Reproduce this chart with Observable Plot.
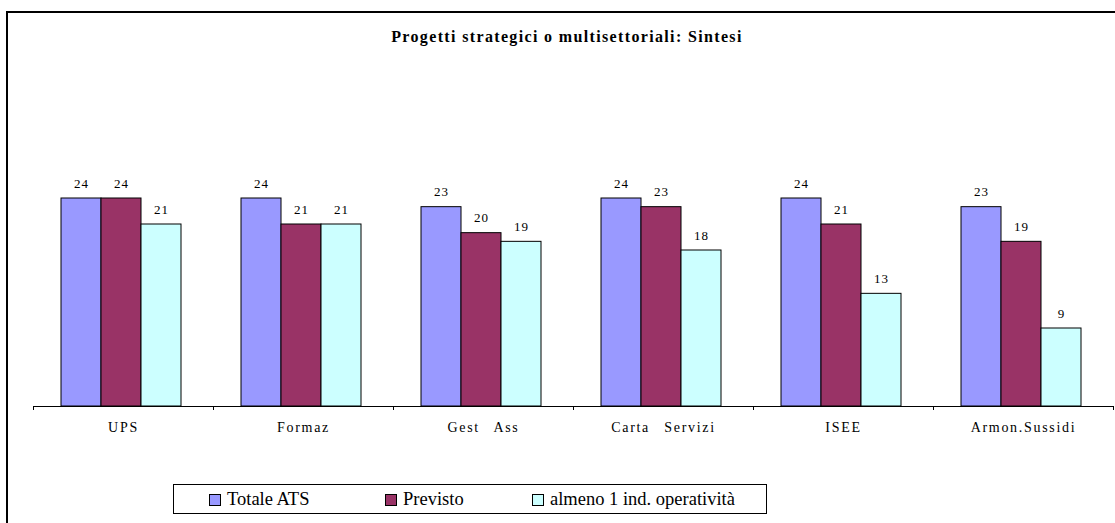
<!DOCTYPE html>
<html>
<head>
<meta charset="utf-8">
<script src="https://cdn.jsdelivr.net/npm/d3@7"></script>
<script src="https://cdn.jsdelivr.net/npm/@observablehq/plot@0.6"></script>
<style>
  html, body { margin: 0; padding: 0; background: #fff; width: 1115px; height: 523px; overflow: hidden; }
  #frame { position: absolute; left: 6px; top: 11px; width: 1200px; height: 600px; border-left: 2px solid #000; border-top: 2px solid #000; }
  #title { position: absolute; left: 7px; top: 27px; width: 1120px; text-align: center; font: bold 16px "Liberation Serif", "DejaVu Serif", serif; line-height: 19px; letter-spacing: 1.35px; color: #000; }
  #chart { position: absolute; left: 0; top: 60px; }
  #chart svg g[aria-label="fx-axis tick label"] text { letter-spacing: 1.7px; word-spacing: 9px; }
  #chart svg g[aria-label="text"] text { letter-spacing: 1px; }
  #legend { position: absolute; left: 173px; top: 484px; width: 592px; height: 28px; border: 1px solid #000; background: #fff; font: 18.5px "Liberation Serif", "DejaVu Serif", serif; color: #000; }
  .item { position: absolute; top: 0; height: 28px; line-height: 28px; white-space: nowrap; }
  .sw { display: inline-block; width: 10px; height: 10px; border: 1px solid #000; margin-right: 6px; vertical-align: -1px; }
</style>
</head>
<body>
<div id="frame"></div>
<div id="title"></div>
<div id="chart"></div>
<div id="legend"></div>
<script>
const title = "Progetti strategici o multisettoriali: Sintesi";
const categories = ["UPS", "Formaz", "Gest Ass", "Carta Servizi", "ISEE", "Armon.Sussidi"];
const series = ["Totale ATS", "Previsto", "almeno 1 ind. operatività"];
const totaleATS = [24, 24, 23, 24, 24, 23];
const previsto = [24, 21, 20, 23, 21, 19];
const almeno1 = [21, 21, 19, 18, 13, 9];
const colors = ["#9999FF", "#993366", "#CCFFFF"];

const seriesValues = [totaleATS, previsto, almeno1];
const data = [];
categories.forEach((c, i) => {
  series.forEach((s, j) => data.push({cat: c, series: s, value: seriesValues[j][i]}));
});

document.getElementById("title").textContent = title;

const serifFont = '"Liberation Serif", "DejaVu Serif", serif';

const baseAxis = (index, scales) => {
  const [a, b] = scales.x.range();
  const y0 = scales.y(0);
  const g = d3.create("svg:g");
  g.append("path")
    .attr("d", `M${a},${y0}H${b}M${a},${y0}v4M${b},${y0}v4`)
    .attr("stroke", "#000")
    .attr("stroke-width", 1)
    .attr("fill", "none")
    .attr("shape-rendering", "crispEdges");
  return g.node();
};

const chart = Plot.plot({
  width: 1115,
  height: 400,
  marginLeft: 32,
  marginRight: 2,
  marginTop: 86,
  marginBottom: 54,
  style: {fontFamily: serifFont, background: "transparent", color: "#000"},
  fx: {domain: categories, padding: 0, label: null},
  x: {domain: series, paddingInner: 0, paddingOuter: 0.72, align: 0.47, axis: null},
  y: {domain: [0, 30], axis: null},
  color: {domain: series, range: colors},
  marks: [
    Plot.axisFx({anchor: "bottom", tickSize: 0, tickPadding: 16, fontSize: 14, label: null, fontFamily: serifFont}),
    Plot.barY(data, {fx: "cat", x: "series", y: "value", fill: "series", stroke: "#000", strokeWidth: 1}),
    baseAxis,
    Plot.text(data, {fx: "cat", x: "series", y: "value", text: d => String(d.value), dy: -15, lineAnchor: "middle", fontSize: 13, fontFamily: serifFont, fill: "#000"})
  ]
});
document.getElementById("chart").appendChild(chart);

const legend = document.getElementById("legend");
const itemLeft = [35, 211, 358];
series.forEach((s, j) => {
  const it = document.createElement("div");
  it.className = "item";
  it.style.left = itemLeft[j] + "px";
  const sw = document.createElement("span");
  sw.className = "sw";
  sw.style.background = colors[j];
  it.appendChild(sw);
  it.appendChild(document.createTextNode(s));
  legend.appendChild(it);
});
</script>
</body>
</html>
